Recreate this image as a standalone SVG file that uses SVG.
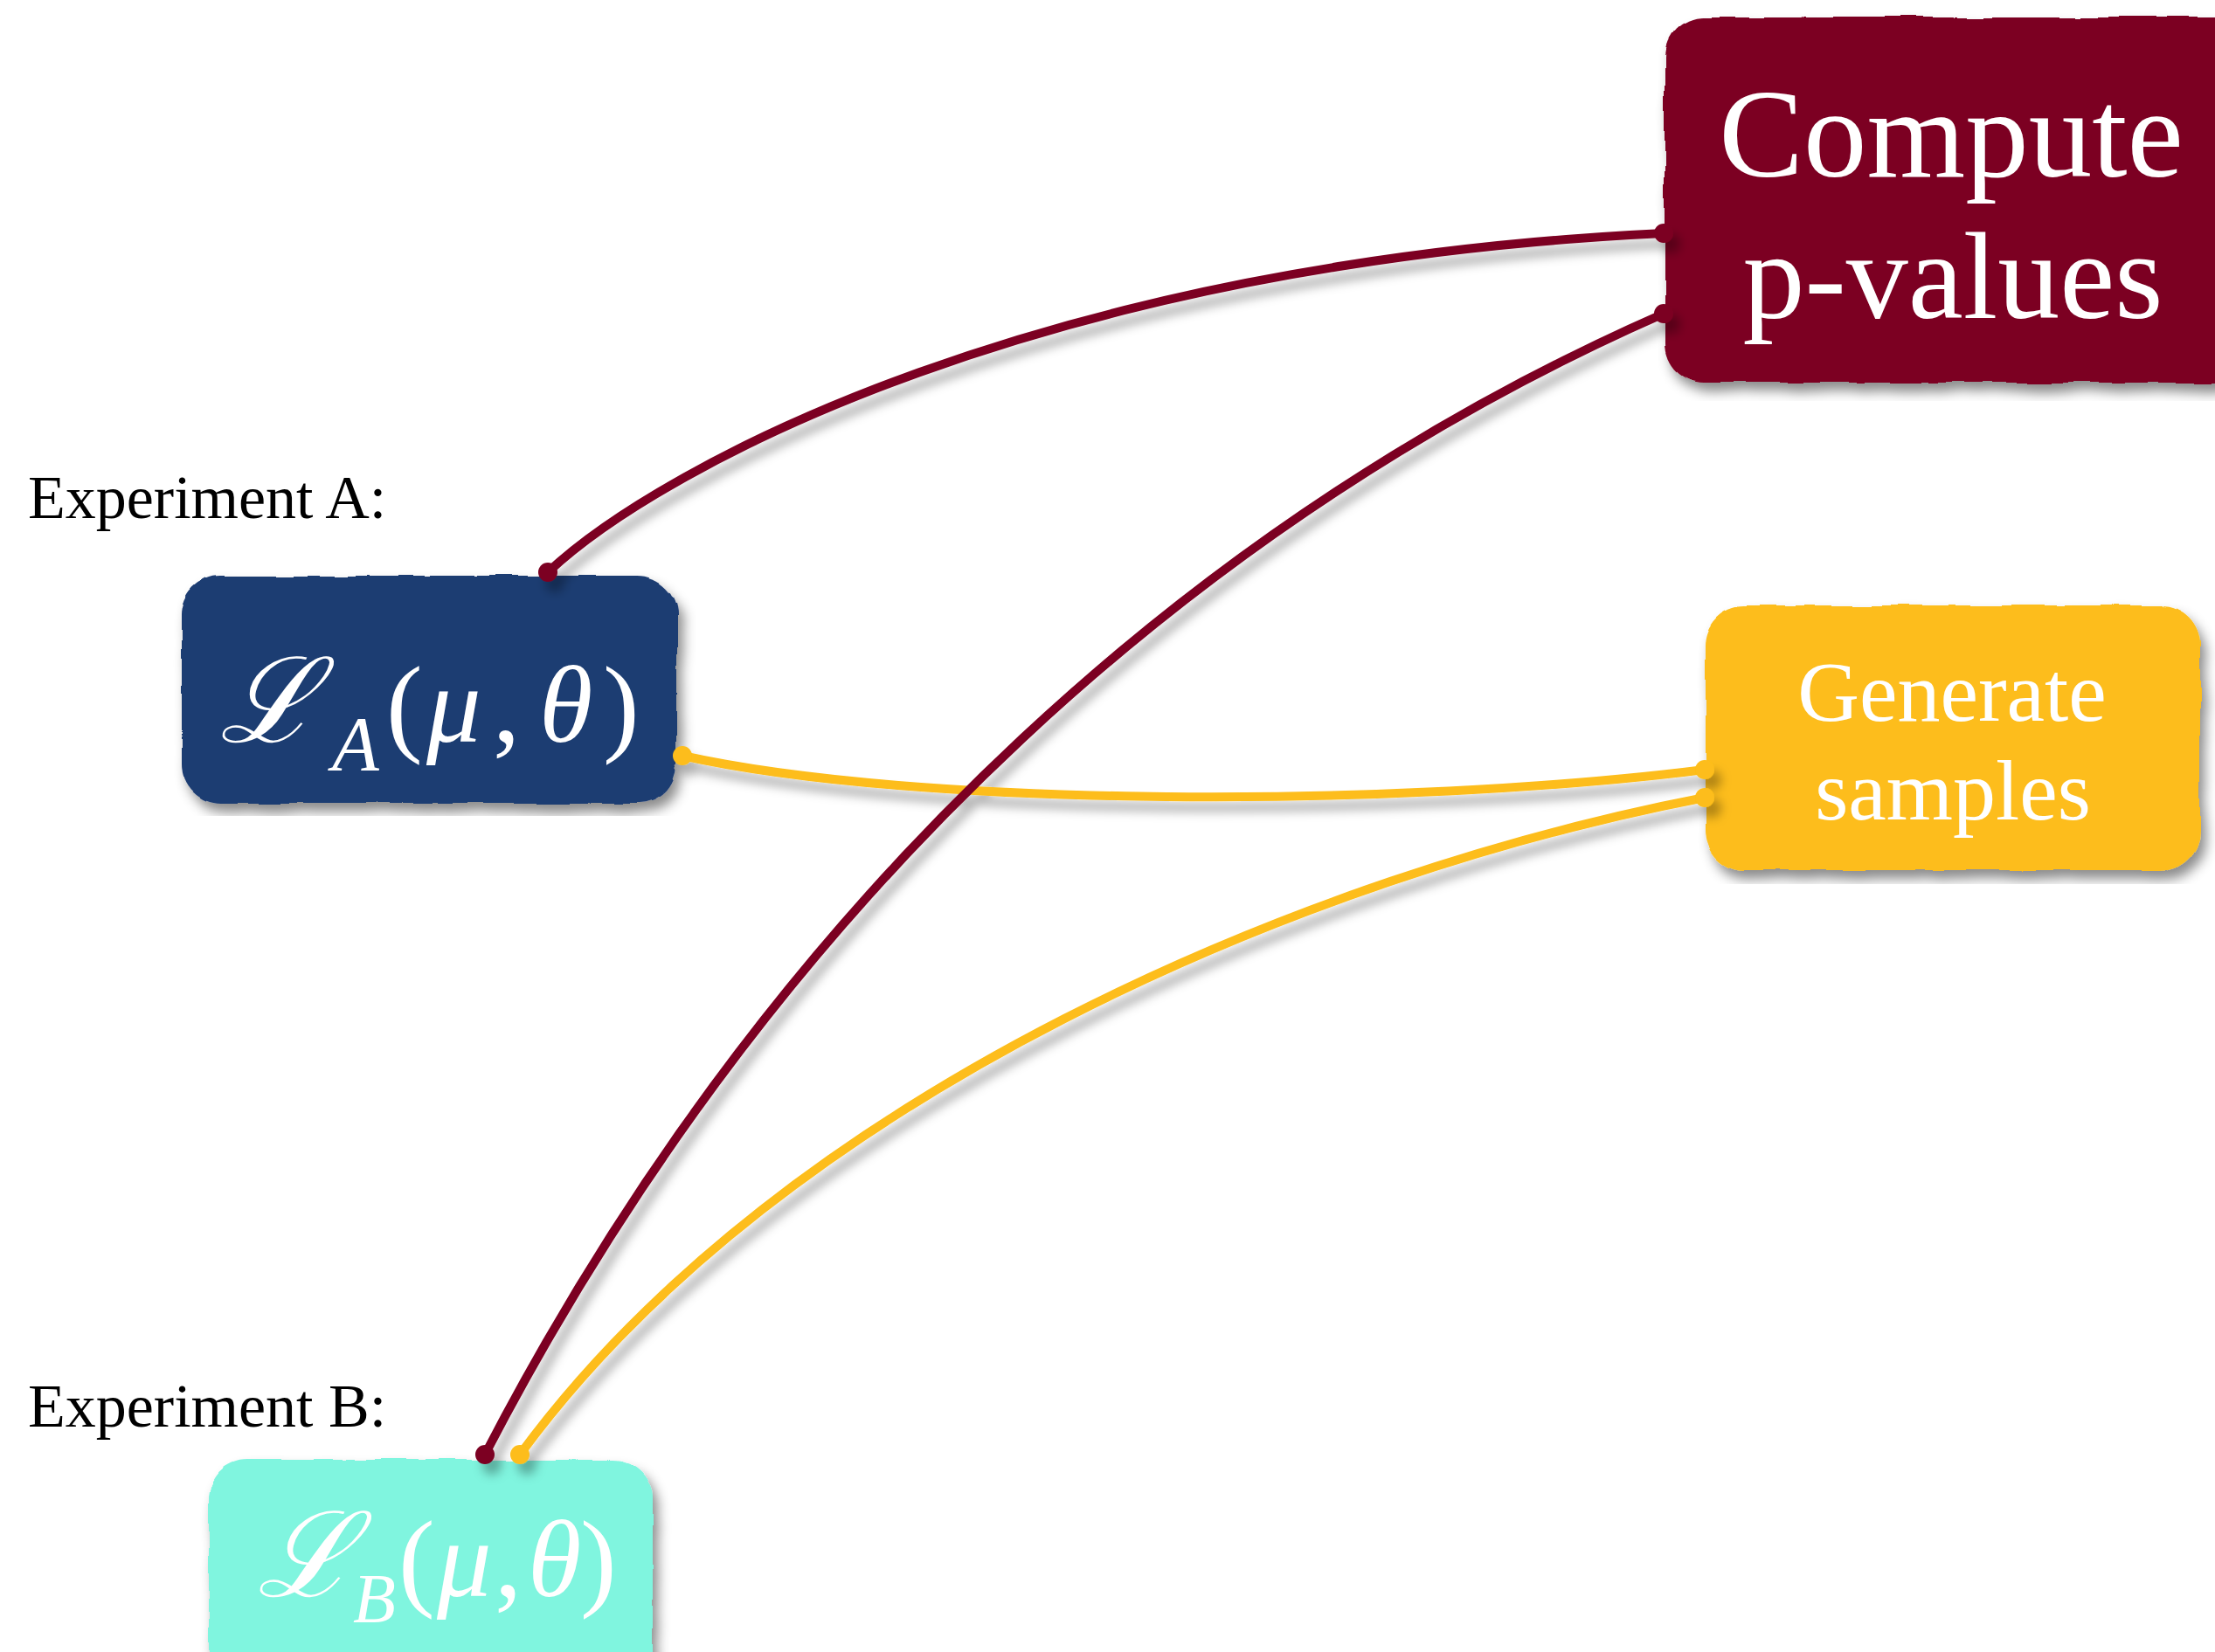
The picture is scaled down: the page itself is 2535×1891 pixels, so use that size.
<svg xmlns="http://www.w3.org/2000/svg" width="2535" height="1891" viewBox="0 0 2535 1891">
<style>
.lbl{font-family:"Liberation Serif","Times New Roman",serif;fill:#000;font-size:70px}
.wt{font-family:"Liberation Serif","Times New Roman",serif;fill:#fff;text-anchor:middle}
.math{font-family:"Liberation Serif","DejaVu Serif",serif;fill:#fff;font-size:125px}
.scr{font-family:"DejaVu Serif","Liberation Serif",serif;font-style:italic;font-size:135px}
.it{font-style:italic}
.red{fill:none;stroke:#7B0022;stroke-width:10;stroke-linecap:round}
.yel{fill:none;stroke:#FDBD1A;stroke-width:10;stroke-linecap:round}
</style>
<defs>
<filter id="wob" x="-5%" y="-5%" width="110%" height="110%">
<feTurbulence type="fractalNoise" baseFrequency="0.02" numOctaves="2" seed="3" result="n"/>
<feDisplacementMap in="SourceGraphic" in2="n" scale="8" xChannelSelector="R" yChannelSelector="G" result="d"/>
<feDropShadow in="d" dx="6" dy="10" stdDeviation="7" flood-color="#000" flood-opacity="0.45"/>
</filter>
<filter id="csh" x="-10%" y="-10%" width="120%" height="120%">
<feDropShadow dx="8" dy="12" stdDeviation="6" flood-color="#000" flood-opacity="0.3"/>
</filter>
</defs>
<rect width="2535" height="1891" fill="#fff"/>

<text class="lbl" x="32" y="593">Experiment A:</text>
<text class="lbl" x="32" y="1633">Experiment B:</text>

<g id="node-compute">
<rect x="1905" y="20" width="680" height="418" rx="45" fill="#7B0022" filter="url(#wob)"/>
<text class="wt" x="2233" y="202" font-size="145">Compute</text>
<text class="wt" x="2235" y="364" font-size="142">p-values</text>
</g>

<g id="node-generate">
<rect x="1952" y="693" width="566" height="303" rx="45" fill="#FDBD1A" filter="url(#wob)"/>
<text class="wt" x="2234" y="825" font-size="98">Generate</text>
<text class="wt" x="2235" y="938" font-size="98">samples</text>
</g>

<g id="node-LA">
<rect x="208" y="659" width="567" height="261" rx="45" fill="#1F3D72" filter="url(#wob)"/>
<text class="math" y="849"><tspan class="scr" x="251">ℒ</tspan><tspan class="it" font-size="88" x="380" y="881">A</tspan><tspan x="442" y="849">(</tspan><tspan class="it" x="488">μ</tspan><tspan x="564">,</tspan><tspan class="it" x="617">θ</tspan><tspan x="690">)</tspan></text>
</g>

<g id="node-LB">
<rect x="239" y="1671" width="508" height="300" rx="45" fill="#80F5DF" filter="url(#wob)"/>
<text class="math" y="1827"><tspan class="scr" x="294" font-size="128">ℒ</tspan><tspan class="it" font-size="80" x="404" y="1857">B</tspan><tspan x="456" y="1827">(</tspan><tspan class="it" x="500">μ</tspan><tspan x="566">,</tspan><tspan class="it" x="604">θ</tspan><tspan x="664">)</tspan></text>
</g>

<g id="connectors" filter="url(#csh)">
<path class="yel" d="M 781 865 C 1050 925, 1600 925, 1951 881"/>
<path class="red" d="M 627 655 C 760 530, 1200 300, 1904 267"/>
<path class="red" d="M 1904 359 C 1400 580, 900 1000, 555 1665"/>
<path class="yel" d="M 1951 913 C 1500 1000, 900 1250, 595 1665"/>
<circle cx="627" cy="655" r="11" fill="#7B0022"/>
<circle cx="1904" cy="267" r="11" fill="#7B0022"/>
<circle cx="1904" cy="359" r="11" fill="#7B0022"/>
<circle cx="555" cy="1665" r="11" fill="#7B0022"/>
<circle cx="781" cy="865" r="11" fill="#FDBD1A"/>
<circle cx="1951" cy="881" r="11" fill="#FDBD1A"/>
<circle cx="1951" cy="913" r="11" fill="#FDBD1A"/>
<circle cx="595" cy="1665" r="11" fill="#FDBD1A"/>
</g>
</svg>
